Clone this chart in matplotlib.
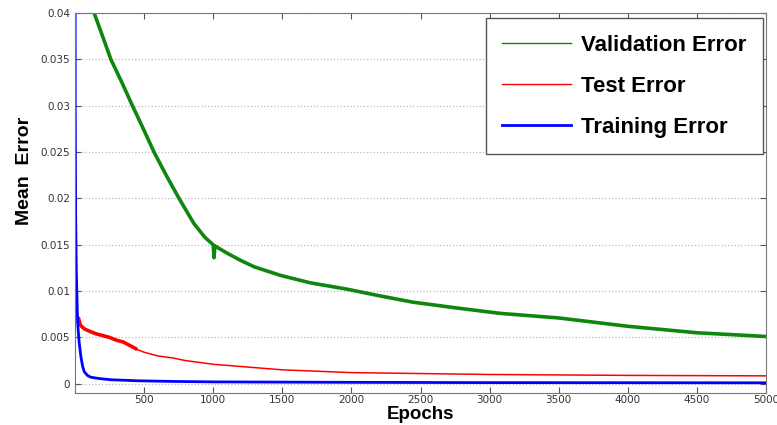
import matplotlib.pyplot as plt

# values
val_epochs = [0, 60, 100, 139, 200, 260, 340, 416, 495, 572, 660, 753, 860, 940, 1000, 1006, 1012,
              1020, 1100, 1200, 1300, 1486, 1700, 1970, 2200, 2446, 2750, 3073, 3500, 4000, 4500, 5000]
val_error = [0.060, 0.048, 0.0425, 0.040, 0.0375, 0.035, 0.0325, 0.030, 0.0275, 0.025, 0.0225, 0.020,
             0.0173, 0.0158, 0.0150, 0.0136, 0.0149, 0.0148, 0.0141, 0.0133, 0.0126, 0.0117, 0.0109,
             0.0102, 0.0095, 0.0088, 0.0082, 0.0076, 0.0071, 0.0062, 0.0055, 0.0051]

test_epochs = [1, 10, 24, 30, 40, 70, 100, 150, 200, 250, 300, 350, 400, 450, 500, 600, 700, 800,
               1000, 1250, 1500, 2000, 2500, 3000, 4000, 5000]
test_error = [0.0095, 0.0080, 0.0072, 0.0068, 0.0063, 0.0059, 0.0057, 0.0054, 0.0052, 0.0050, 0.0047,
              0.0045, 0.0041, 0.0037, 0.0034, 0.0030, 0.0028, 0.0025, 0.0021, 0.0018, 0.0015, 0.0012,
              0.0011, 0.0010, 0.0009, 0.00085]

train_epochs = [0, 2, 5, 10, 19, 30, 43, 55, 67, 90, 115, 180, 260, 450, 700, 1000, 2000, 3000, 5000]
train_error = [0.060, 0.030, 0.018, 0.012, 0.0066, 0.0045, 0.0029, 0.0019, 0.0013, 0.0009, 0.0007,
               0.00055, 0.00043, 0.00032, 0.00025, 0.0002, 0.00015, 0.00012, 0.0001]

fig = plt.figure(figsize=(7.77, 4.25), dpi=100)
ax = fig.add_axes([0.0965, 0.0753, 0.8895, 0.8937])

ax.plot(val_epochs, val_error, color='#0f870f', lw=2.6, label='Validation Error')
ax.plot(test_epochs, test_error, color='red', lw=1.1, label='Test Error')
# noisy early part of the test curve is drawn as a wider band
n_noisy = test_epochs.index(450) + 1
ax.plot(test_epochs[2:n_noisy], test_error[2:n_noisy], color='red', lw=2.6, solid_capstyle='butt')
ax.plot(train_epochs, train_error, color='blue', lw=2, label='Training Error')

ax.set_xlim(0, 5000)
ax.set_ylim(-0.001, 0.04)
ax.set_xticks(range(500, 5001, 500))
ax.set_yticks([0, 0.005, 0.01, 0.015, 0.02, 0.025, 0.03, 0.035, 0.04])
ax.set_yticklabels(['0', '0.005', '0.01', '0.015', '0.02', '0.025', '0.03', '0.035', '0.04'])
ax.yaxis.grid(True, linestyle=':', color='#bbbbbb', lw=0.9)

ax.tick_params(direction='in', top=True, right=True, labelsize=7.5, colors='#555555',
               labelcolor='#333333', length=4)
ax.tick_params(axis='x', pad=1.5)
for s in ax.spines.values():
    s.set_color('#777777')

ax.set_xlabel('Epochs', fontsize=13.5, fontweight='bold', family='Liberation Sans')
ax.xaxis.set_label_coords(0.5, -0.033)
ax.set_ylabel('Mean  Error', fontsize=14, fontweight='bold', family='Liberation Sans')
ax.yaxis.set_label_coords(-0.061, 0.584)

leg = ax.legend(loc='upper right', handlelength=3.1, handletextpad=0.45, fancybox=False,
                framealpha=1, edgecolor='#555555', borderpad=0.75, labelspacing=0.9,
                borderaxespad=0, prop={'family': 'Liberation Sans', 'weight': 'bold', 'size': 16},
                bbox_to_anchor=(0.9957, 0.987))
for line in leg.get_lines()[:2]:
    line.set_linewidth(1)

fig.savefig('out.png', dpi=100)
